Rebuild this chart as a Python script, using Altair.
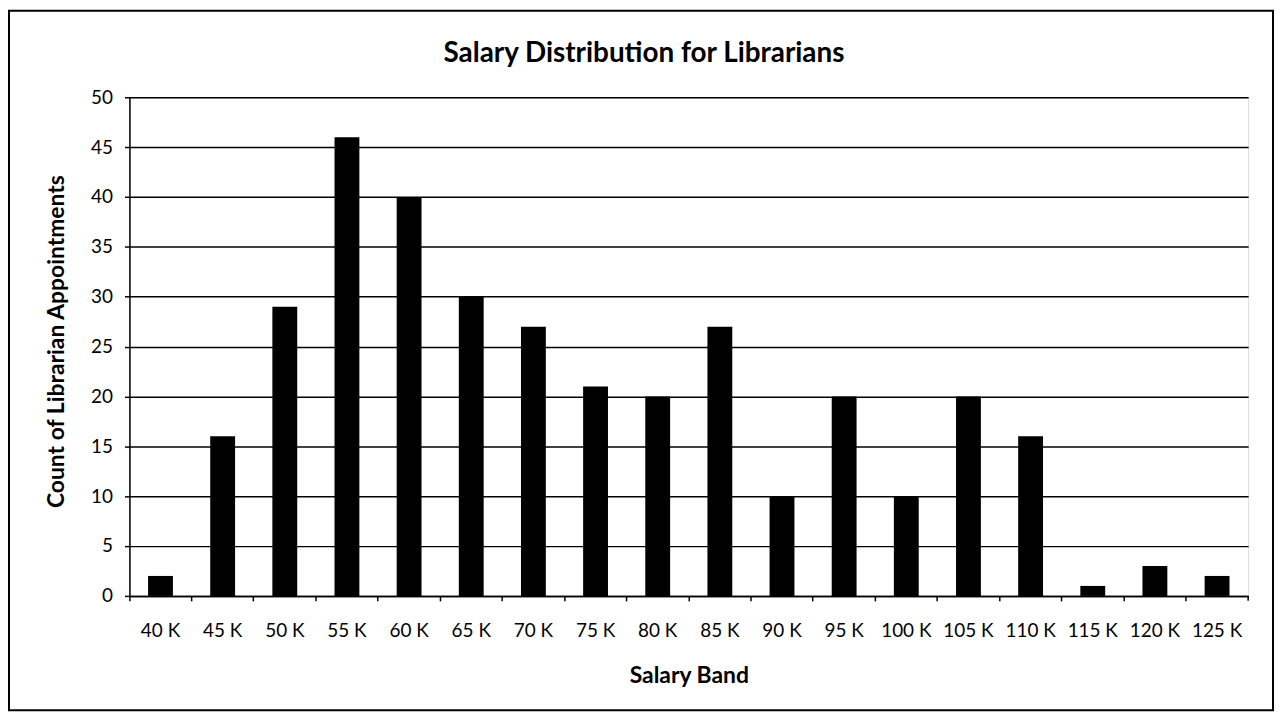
import altair as alt
import pandas as pd

bands = ["40 K", "45 K", "50 K", "55 K", "60 K", "65 K", "70 K", "75 K", "80 K",
         "85 K", "90 K", "95 K", "100 K", "105 K", "110 K", "115 K", "120 K", "125 K"]
counts = [2, 16, 29, 46, 40, 30, 27, 21, 20, 27, 10, 20, 10, 20, 16, 1, 3, 2]
title_text = "Salary Distribution for Librarians"

df = pd.DataFrame({"band": bands, "count": counts})
FONT = "Lato"

W, H = 1124, 501

bars = alt.Chart(df).mark_bar(color="black", width=alt.RelativeBandSize(0.4)).encode(
    x=alt.X("band:N", sort=bands, scale=alt.Scale(paddingInner=0, paddingOuter=0),
            axis=alt.Axis(title="Salary Band", labelAngle=0, bandPosition=0,
                          tickSize=5, tickColor="black", tickWidth=1.5,
                          domainColor="black", domainWidth=1.5,
                          labelFont=FONT, labelFontSize=19, labelColor="black",
                          labelPadding=21, labelOverlap=False,
                          titleFont=FONT, titleFontSize=23, titleFontWeight="bold",
                          titleColor="black", titleY=80, titleBaseline="middle")),
    y=alt.Y("count:Q", scale=alt.Scale(domain=[0, 50]),
            axis=alt.Axis(title="Count of Librarian Appointments", values=list(range(0, 51, 5)),
                          tickSize=5, tickColor="black", tickWidth=1.5,
                          domainColor="black", domainWidth=1.5,
                          grid=True, gridColor="black", gridWidth=1.5,
                          labelFont=FONT, labelFontSize=19, labelColor="black",
                          labelPadding=12,
                          titleFont=FONT, titleFontSize=23, titleFontWeight="bold",
                          titleColor="black", titleX=-73, titleY=245,
                          titleBaseline="middle", titleAngle=-90, titleAlign="center")),
)

end_tick = alt.Chart(pd.DataFrame({"a": [0]})).mark_rule(color="black", strokeWidth=1.5).encode(
    x=alt.value(W), y=alt.value(H), y2=alt.value(H + 5)
)

frame = alt.Chart(pd.DataFrame({"a": [0]})).mark_rect(
    fill=None, stroke="black", strokeWidth=2
).encode(
    x=alt.value(-121), x2=alt.value(1149), y=alt.value(-87), y2=alt.value(616)
)

title = alt.Chart(pd.DataFrame({"a": [0]})).mark_text(
    font=FONT, fontSize=28, fontWeight="bold", color="black",
    align="center", baseline="middle"
).encode(
    x=alt.value(517), y=alt.value(-43), text=alt.value(title_text)
)

chart = alt.layer(bars, end_tick, frame, title).properties(
    width=W, height=H,
    autosize=alt.AutoSizeParams(type="none"),
    padding={"left": 122, "top": 88, "right": 28, "bottom": 118},
).configure_view(stroke=None).configure(background="white")

chart.save("out.html", embed_options={"renderer": "svg", "actions": False})
